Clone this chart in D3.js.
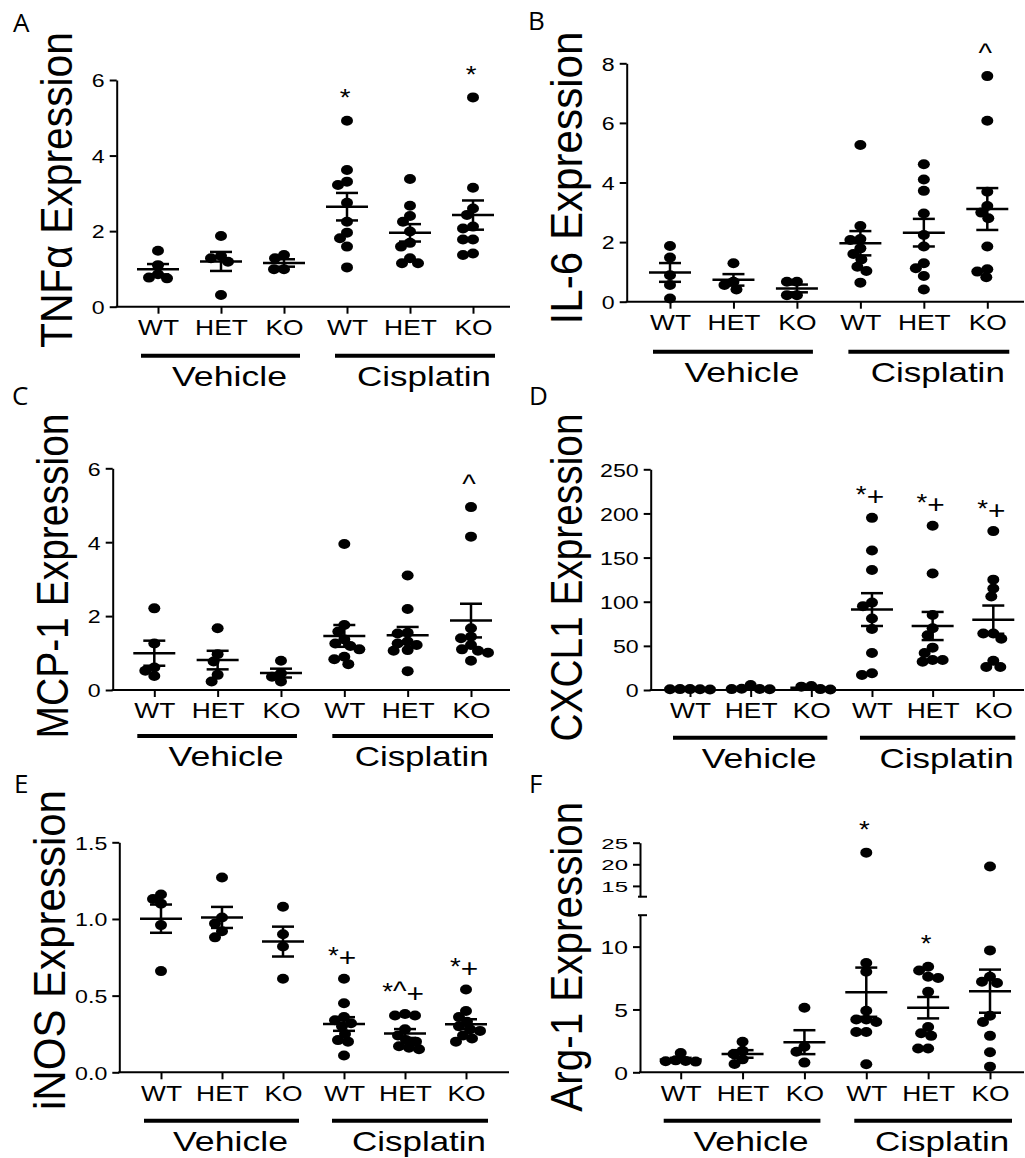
<!DOCTYPE html>
<html><head><meta charset="utf-8">
<script src="https://cdn.jsdelivr.net/npm/d3@7"></script>
<style>body{margin:0;background:#fff} svg{display:block}</style>
</head><body>
<svg id="chart" width="1025" height="1158"></svg>
<script>
// ---------------- DATA ----------------
const genotypes = ["WT", "HET", "KO"];
const treatments = ["Vehicle", "Cisplatin"];

// each panel: 6 groups in order Vehicle WT/HET/KO, Cisplatin WT/HET/KO
const tnfaValues = [
  [1.48, 1.10, 0.86, 0.77, 0.75],
  [1.87, 1.34, 1.28, 1.19, 0.31],
  [1.37, 1.28, 0.99, 0.99],
  [4.92, 3.62, 3.31, 3.22, 2.75, 2.25, 1.96, 1.81, 1.59, 1.04],
  [3.38, 2.67, 2.40, 2.25, 1.99, 1.69, 1.59, 1.28, 1.15, 1.15],
  [5.54, 3.15, 2.60, 2.43, 2.12, 2.07, 1.78, 1.78, 1.41, 1.37]
];
const il6Values = [
  [1.87, 1.48, 0.89, 0.56, 0.11],
  [1.29, 0.67, 0.56, 0.41],
  [0.67, 0.67, 0.22, 0.22],
  [5.26, 2.54, 2.10, 2.07, 1.79, 1.60, 1.42, 1.17, 1.03, 0.64],
  [4.61, 4.10, 3.72, 2.96, 2.24, 1.85, 1.29, 1.12, 0.86, 0.41],
  [7.57, 6.07, 3.69, 3.21, 2.99, 2.80, 1.85, 1.09, 1.01, 0.82]
];
const mcp1Values = [
  [2.21, 1.26, 0.61, 0.52, 0.38],
  [1.67, 0.97, 0.77, 0.41, 0.23],
  [0.79, 0.45, 0.36, 0.23],
  [3.95, 1.76, 1.58, 1.37, 1.26, 1.19, 1.10, 0.90, 0.83, 0.70],
  [3.10, 2.19, 1.55, 1.53, 1.31, 1.26, 1.22, 1.08, 1.06, 0.51],
  [4.95, 4.15, 1.67, 1.44, 1.40, 1.22, 1.10, 1.06, 1.01, 0.79]
];
const cxcl1Values = [
  [1.0, 0.8, 0.5, 0.9, 1.0],
  [5.7, 1.5, 1.2, 1.0, 0.8],
  [4.5, 3.8, 1.0, 0.5],
  [195, 158, 136, 99, 95, 81, 69, 42, 19, 17],
  [186, 132, 85, 70, 62, 48, 42, 34, 34, 32],
  [180, 125, 115, 106, 64, 64, 58, 33, 26, 26]
];
const inosValues = [
  [1.16, 1.13, 1.10, 0.96, 0.66],
  [1.27, 1.01, 0.97, 0.92, 0.88],
  [1.08, 0.90, 0.82, 0.61],
  [0.61, 0.45, 0.36, 0.34, 0.32, 0.30, 0.25, 0.21, 0.20, 0.11],
  [0.38, 0.37, 0.37, 0.28, 0.24, 0.21, 0.20, 0.17, 0.16, 0.15],
  [0.54, 0.40, 0.36, 0.33, 0.30, 0.28, 0.27, 0.24, 0.22, 0.20]
];
const arg1Values = [
  [1.53, 0.95, 0.90, 0.88, 0.85],
  [2.43, 1.72, 1.46, 1.03, 0.66],
  [5.14, 2.04, 1.64, 0.77],
  [22.7, 8.7, 8.0, 4.9, 4.2, 4.2, 4.0, 3.2, 3.2, 0.64],
  [8.4, 8.1, 7.6, 7.5, 6.4, 3.6, 3.1, 2.9, 1.9, 1.9],
  [19.5, 9.7, 7.6, 7.2, 7.1, 4.5, 4.0, 2.9, 1.6, 0.45]
];

const tnfaMarks  = ["", "", "", "*", "", "*"];
const il6Marks   = ["", "", "", "", "", "^"];
const mcp1Marks  = ["", "", "", "", "", "^"];
const cxcl1Marks = ["", "", "", "*+", "*+", "*+"];
const inosMarks  = ["", "", "", "*+", "*^+", "*+"];
const arg1Marks  = ["", "", "", "*", "*", ""];

const tnfaTicks  = [0, 2, 4, 6];
const il6Ticks   = [0, 2, 4, 6, 8];
const mcp1Ticks  = [0, 2, 4, 6];
const cxcl1Ticks = [0, 50, 100, 150, 200, 250];
const inosTicks  = [0, 0.5, 1.0, 1.5];
const arg1LowTicks  = [0, 5, 10];
const arg1HighTicks = [15, 20, 25];

const panelTitles = ["TNFα Expression", "IL-6 Expression", "MCP-1 Expression",
                     "CXCL1 Expression", "iNOS Expression", "Arg-1 Expression"];
const panelLetters = ["A", "B", "C", "D", "E", "F"];

// ---------------- LAYOUT ----------------
const groupKeys = treatments.flatMap(t => genotypes.map(g => t + "|" + g));
const FONT = "'Liberation Sans', Arial, Helvetica, sans-serif";
const svg = d3.select("#chart");

const layouts = [
  { letter:[13,32],  title:[71.7,190,316], values:tnfaValues, marks:tnfaMarks, ticks:tnfaTicks, fmt:"d",
    domain:[0,6], yRange:[306.7,80], axisX:116.7, xEnd:510, cat:[158,473], lineY:355.7 },
  { letter:[528,30], title:[581.7,178,293], values:il6Values, marks:il6Marks, ticks:il6Ticks, fmt:"d",
    domain:[0,8], yRange:[301.7,63.3], axisX:626.7, xEnd:1024, cat:[670,987.3], lineY:351.7 },
  { letter:[12,405], title:[68.3,576,325], values:mcp1Values, marks:mcp1Marks, ticks:mcp1Ticks, fmt:"d",
    domain:[0,6], yRange:[690,468.3], axisX:112.7, xEnd:510, cat:[154.3,471], lineY:736 },
  { letter:[529,405], title:[581.7,577.5,328], values:cxcl1Values, marks:cxcl1Marks, ticks:cxcl1Ticks, fmt:"d",
    domain:[0,250], yRange:[690,469.3], axisX:650.7, xEnd:1024, cat:[690,993.3], lineY:737.7 },
  { letter:[14,793], title:[65,950,320], values:inosValues, marks:inosMarks, ticks:inosTicks, fmt:".1f",
    domain:[0,1.5], yRange:[1072.3,842.3], axisX:119.3, xEnd:509, cat:[161,466], lineY:1120.7 },
  { letter:[529,793], title:[581.7,956.7,310], values:arg1Values, marks:arg1Marks, fmt:"d", broken:true,
    lowTicks:arg1LowTicks, highTicks:arg1HighTicks,
    lowDomain:[0,12.5], lowRange:[1072.3,915.2], highDomain:[12.5,25], highRange:[896.7,842.7],
    axisX:640, xEnd:1024, cat:[680.7,990], lineY:1120.7 }
];

const DOT_RX = 6, DOT_RY = 5;

function beeswarm(values, cx, y) {
  const pts = values.map(v => ({ v, py: y(v) })).sort((a, b) => a.py - b.py);
  const placed = [];
  pts.forEach(p => {
    for (let k = 0; k < 400; k++) {
      const off = (k % 2 === 0 ? 1 : -1) * Math.ceil(k / 2);
      const px = cx + off;
      const ok = placed.every(q =>
        ((px - q.px) / (2 * DOT_RX)) ** 2 + ((p.py - q.py) / (2 * DOT_RY)) ** 2 >= 0.65);
      if (ok) { p.px = px; placed.push(p); break; }
    }
  });
  return placed;
}

function styleYAxis(sel, sx, size) {
  sel.select(".domain").attr("stroke-width", 2);
  sel.selectAll(".tick line").attr("stroke-width", 2);
  sel.selectAll(".tick text")
    .attr("font-family", FONT).attr("font-size", size).attr("fill", "#000")
    .attr("x", -12 / sx).attr("dy", "0.36em")
    .attr("transform", `scale(${sx},1)`);
}

function drawAnnotation(g, cx, cy, str) {
  if (!str) return;
  const t = g.append("text")
    .attr("transform", `translate(${cx},${cy + 13.5}) scale(1.15,1)`)
    .attr("text-anchor", "middle").attr("font-family", FONT).attr("fill", "#000");
  [...str].forEach(ch => {
    const ts = t.append("tspan").text(ch);
    if (ch === "*") ts.attr("font-size", 24);
    else if (ch === "^") ts.attr("font-size", 25);
    else if (ch === "+") { ts.attr("font-size", 26).attr("dy", 2); }
  });
}

layouts.forEach((L, pi) => {
  const g = svg.append("g");
  const x = d3.scalePoint().domain(groupKeys).range(L.cat);
  let y, y0;
  if (L.broken) {
    const yl = d3.scaleLinear().domain(L.lowDomain).range(L.lowRange);
    const yh = d3.scaleLinear().domain(L.highDomain).range(L.highRange);
    y = v => (v <= L.lowDomain[1] ? yl(v) : yh(v));
    y0 = yl(0);
    const axL = g.append("g").attr("transform", `translate(${L.axisX},0)`)
      .call(d3.axisLeft(yl).tickValues(L.lowTicks).tickSize(7).tickSizeOuter(0).tickFormat(d3.format(L.fmt)));
    styleYAxis(axL, 1.3, 19);
    const axH = g.append("g").attr("transform", `translate(${L.axisX},0)`)
      .call(d3.axisLeft(yh).tickValues(L.highTicks).tickSize(7).tickSizeOuter(0).tickFormat(d3.format(L.fmt)));
    styleYAxis(axH, 1.6, 15);
    [L.lowRange[1], L.highRange[0]].forEach(yy => {
      g.append("line").attr("x1", L.axisX - 2).attr("x2", L.axisX + 7)
        .attr("y1", yy).attr("y2", yy).attr("stroke", "#000").attr("stroke-width", 2);
    });
  } else {
    y = d3.scaleLinear().domain(L.domain).range(L.yRange);
    y0 = y(0);
    const ax = g.append("g").attr("transform", `translate(${L.axisX},0)`)
      .call(d3.axisLeft(y).tickValues(L.ticks).tickSize(7).tickSizeOuter(0).tickFormat(d3.format(L.fmt)));
    styleYAxis(ax, 1.22, 19);
  }

  // x axis baseline
  g.append("line").attr("x1", L.axisX - 1).attr("x2", L.xEnd).attr("y1", y0).attr("y2", y0)
    .attr("stroke", "#000").attr("stroke-width", 2);
  const xa = g.append("g").attr("transform", `translate(0,${y0})`)
    .call(d3.axisBottom(x).tickSize(7).tickFormat(k => k.split("|")[1]));
  xa.select(".domain").remove();
  xa.selectAll(".tick line").attr("stroke-width", 2);
  xa.selectAll(".tick text")
    .attr("font-family", FONT).attr("font-size", 22).attr("fill", "#000")
    .attr("y", 28.5).attr("dy", 0).attr("transform", "scale(1.2,1)");

  // data
  groupKeys.forEach((k, gi) => {
    const vals = L.values[gi];
    const cx = x(k);
    const pts = beeswarm(vals, cx, y);
    g.append("g").selectAll("ellipse").data(pts).join("ellipse")
      .attr("cx", d => d.px).attr("cy", d => d.py)
      .attr("rx", DOT_RX).attr("ry", DOT_RY).attr("fill", "#000");
    const m = d3.mean(vals);
    const sem = d3.deviation(vals) / Math.sqrt(vals.length);
    const eb = g.append("g").attr("stroke", "#000").attr("stroke-width", 2.5);
    eb.append("line").attr("x1", cx - 21).attr("x2", cx + 21).attr("y1", y(m)).attr("y2", y(m));
    eb.append("line").attr("x1", cx).attr("x2", cx).attr("y1", y(m - sem)).attr("y2", y(m + sem));
    [m - sem, m + sem].forEach(v => eb.append("line")
      .attr("x1", cx - 11).attr("x2", cx + 11).attr("y1", y(v)).attr("y2", y(v)));
    drawAnnotation(g, cx - 2, y(d3.max(vals)) - 28, L.marks[gi]);
  });

  // treatment group lines + labels
  treatments.forEach((t, ti) => {
    const xa0 = x(t + "|" + genotypes[0]) + (ti === 0 ? -17 : -12);
    const xa1 = x(t + "|" + genotypes[2]) + (ti === 0 ? 16 : 22);
    g.append("line").attr("x1", xa0).attr("x2", xa1).attr("y1", L.lineY).attr("y2", L.lineY)
      .attr("stroke", "#000").attr("stroke-width", 4);
    g.append("text").attr("x", (xa0 + xa1) / 2 + 9).attr("y", L.lineY + 30)
      .attr("text-anchor", "middle").attr("font-family", FONT).attr("font-size", 28).attr("fill", "#000")
      .attr("textLength", ti === 0 ? 115 : 134).attr("lengthAdjust", "spacingAndGlyphs")
      .text(t);
  });

  // y title
  g.append("text")
    .attr("transform", `translate(${L.title[0]},${L.title[1]}) rotate(-90)`)
    .attr("text-anchor", "middle").attr("font-family", FONT).attr("font-size", 45).attr("fill", "#000")
    .attr("textLength", L.title[2]).attr("lengthAdjust", "spacingAndGlyphs")
    .text(panelTitles[pi]);

  // panel letter
  g.append("text").attr("x", L.letter[0]).attr("y", L.letter[1])
    .attr("font-family", "'Open Sans', 'Noto Sans', sans-serif").attr("font-size", 26).attr("fill", "#000")
    .text(panelLetters[pi]);
});
</script>
</body></html>
